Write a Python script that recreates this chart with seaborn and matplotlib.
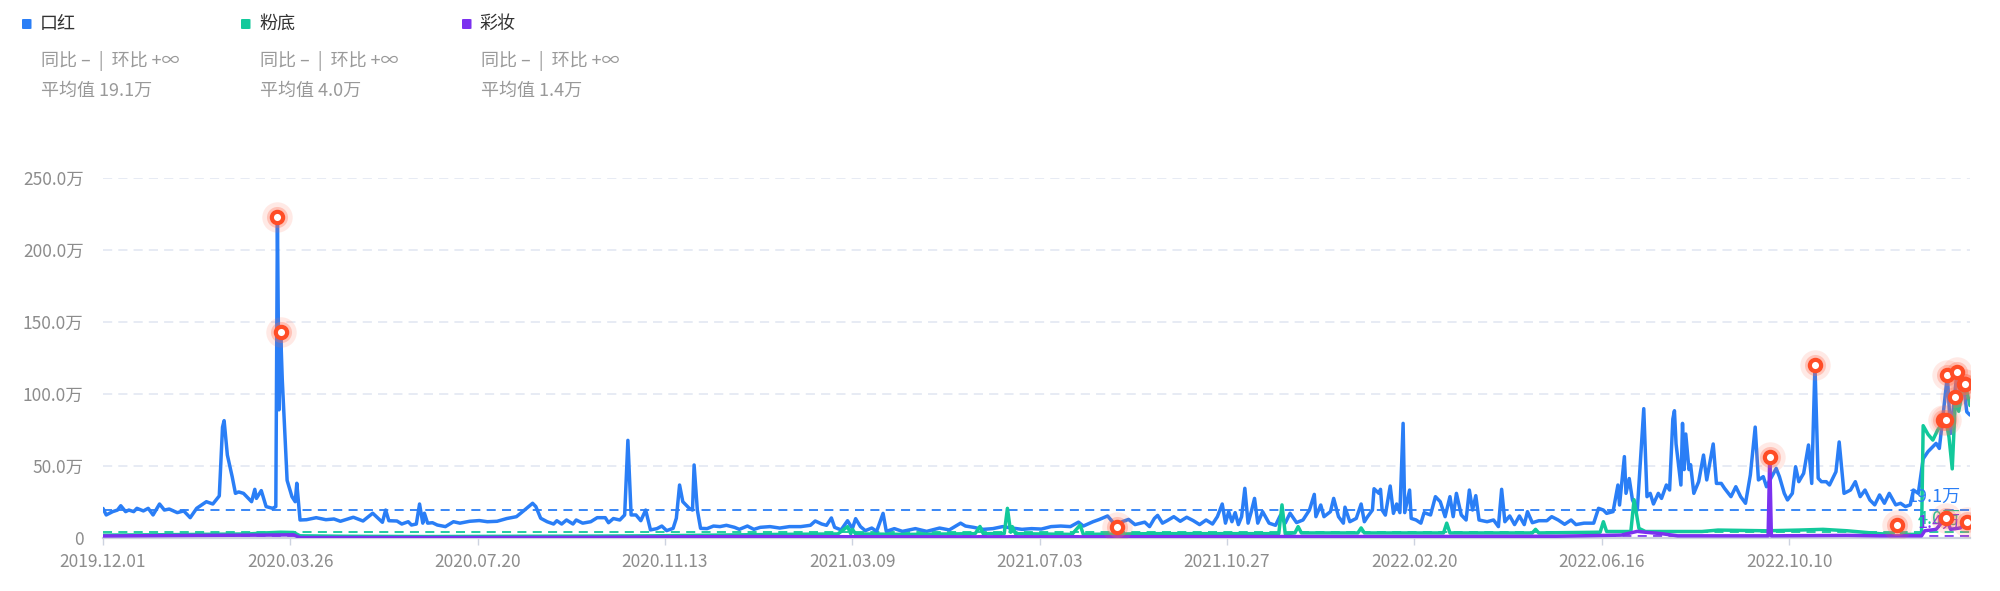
import matplotlib
matplotlib.use("Agg")
import matplotlib.pyplot as plt
from matplotlib.patches import FancyBboxPatch
from matplotlib.ticker import FuncFormatter, FixedLocator
import pandas as pd
import seaborn as sns

# ---- data (values in 万, days counted from 2019-12-01) ----
START = pd.Timestamp("2019-12-01")
END_DAY = 1156
TICK_DAYS = [0, 116, 232, 348, 464, 580, 696, 812, 928, 1044]

series_names = ["口红", "粉底", "彩妆"]
series_colors = ["#2a7ef6", "#12c99b", "#7b31ef"]
series_means = [19.1, 4.0, 1.4]

lipstick_days = [
    0, 2, 6, 9, 11, 14, 16, 19, 21, 25, 28, 31, 35, 38, 41, 46, 50, 54, 58, 64,
    68, 72, 74, 75, 77, 80, 82, 84, 87, 90, 92, 94, 95, 98, 101, 105, 107, 108, 109, 110,
    111, 113, 114, 117, 119, 120, 122, 126, 132, 138, 143, 147, 155, 161, 167, 170, 173, 175, 177, 182,
    185, 189, 191, 194, 196, 198, 199, 201, 204, 207, 212, 217, 221, 227, 233, 238, 244, 250, 256, 261,
    266, 268, 271, 275, 279, 281, 284, 287, 291, 293, 297, 302, 306, 311, 313, 316, 320, 323, 325, 327,
    330, 333, 336, 339, 343, 346, 349, 353, 355, 357, 359, 363, 365, 366, 368, 370, 374, 378, 382, 386,
    391, 394, 399, 403, 407, 413, 419, 425, 432, 438, 441, 445, 448, 451, 453, 457, 461, 464, 466, 469,
    472, 476, 479, 483, 485, 490, 495, 503, 510, 518, 524, 531, 534, 539, 545, 551, 557, 563, 569, 575,
    581, 587, 593, 599, 604, 607, 613, 617, 622, 625, 628, 631, 635, 639, 645, 648, 651, 653, 656, 659,
    663, 667, 671, 675, 679, 683, 687, 690, 693, 695, 697, 699, 701, 703, 705, 707, 709, 711, 713, 715,
    718, 722, 726, 729, 732, 735, 739, 743, 747, 750, 751, 754, 756, 760, 762, 765, 768, 769, 772, 776,
    779, 781, 783, 786, 787, 790, 791, 792, 794, 797, 799, 801, 803, 805, 806, 809, 810, 813, 816, 818,
    822, 825, 828, 831, 834, 836, 838, 841, 844, 846, 848, 850, 852, 857, 861, 864, 866, 868, 871, 874,
    877, 880, 882, 885, 889, 894, 897, 901, 905, 909, 912, 917, 923, 926, 929, 931, 935, 938, 939, 942,
    943, 945, 947, 950, 954, 956, 958, 960, 963, 965, 968, 970, 972, 973, 974, 977, 978, 979, 980, 982,
    983, 985, 988, 991, 993, 997, 999, 1002, 1004, 1008, 1011, 1014, 1017, 1020, 1023, 1025, 1028, 1030, 1032, 1036,
    1038, 1041, 1043, 1046, 1048, 1050, 1053, 1056, 1058, 1060, 1062, 1064, 1067, 1069, 1073, 1075, 1078, 1082, 1085, 1088,
    1091, 1094, 1097, 1100, 1103, 1106, 1110, 1113, 1116, 1119, 1121, 1124, 1127, 1130, 1133, 1135, 1137, 1139, 1142, 1144,
    1146, 1148, 1150, 1152, 1154, 1156,
]
lipstick_vals = [
    20.5, 16, 18.3, 19.4, 22.4, 18.3, 19.4, 18.3, 20.6, 18.8, 20.6, 16, 23.6, 19.4, 20.1, 17.6, 18.8, 14.1, 20.6, 25.2,
    23.6, 29.2, 77, 81.5, 57.6, 42.5, 31, 32, 31, 27.5, 25.2, 33.8, 27.5, 32.9, 21.8, 20.6, 21.8, 223, 89, 143,
    110, 63, 40, 28.7, 25.2, 38, 12.5, 12.7, 14.1, 12.7, 13.2, 11.6, 14.4, 11.8, 17.2, 14.1, 10.9, 19.4, 12, 11.8,
    9.7, 11.3, 9, 9.7, 23.6, 10.3, 17.2, 10.3, 10.6, 9, 7.9, 11.3, 10.3, 11.6, 12.1, 11.3, 11.6, 13.5, 14.8, 19.4,
    24.1, 21.8, 13.7, 11.3, 9.7, 12, 9.7, 12.5, 9.7, 12.5, 10.3, 11.3, 14.1, 14.1, 10.6, 13.5, 12.5, 16, 67.8, 16,
    16, 12, 19.4, 5.6, 6.5, 8.3, 5.1, 6.7, 13.7, 36.8, 25.2, 20.6, 19.4, 50.7, 19.4, 6.7, 6.5, 8.3, 7.9, 8.8,
    7.4, 6, 8.3, 6, 7.4, 7.9, 6.9, 7.9, 7.9, 8.8, 11.8, 9.7, 8.8, 13.9, 7.4, 5.6, 12, 6.5, 13.4, 7.9,
    5.1, 6.9, 4.6, 17.1, 4.6, 6.5, 4.6, 6.5, 4.6, 6.9, 5.6, 10.3, 8.3, 7.4, 6, 6.5, 7.9, 6.9, 6, 6.5,
    6.2, 7.9, 8.3, 7.9, 11, 8.3, 11.3, 12.9, 15.3, 11.3, 7.4, 11.3, 12.9, 9.3, 11, 7.9, 13.6, 15.7, 10.3, 12.1,
    14.8, 11.6, 14.4, 12.1, 9.3, 12.5, 9.7, 14.8, 23.6, 10.3, 18.3, 11.3, 17.6, 9.3, 14.8, 34.5, 10.3, 18.3, 27.5, 10.3,
    18.3, 10.3, 8.8, 15.7, 10.3, 17.2, 10.7, 12.5, 19.4, 30.3, 14.8, 22.9, 14.8, 18.3, 27.5, 14.8, 10.3, 21.4, 11.3, 13.6,
    23.6, 11.3, 14.8, 19.4, 34.2, 31, 33.8, 19.4, 15.9, 36.1, 17.1, 23.6, 17.6, 79.6, 17.6, 33.3, 13.6, 12.5, 10.3, 17.6,
    16, 28.7, 25.2, 14.8, 28.7, 14.8, 31, 16, 12.5, 33.3, 19.4, 29.4, 12.5, 11.3, 12.5, 7.9, 33.8, 11.3, 15.3, 9.3,
    15.3, 9.3, 18.3, 10.6, 12, 12, 14.8, 12.5, 9.5, 12.5, 9.3, 10.3, 10.3, 20.6, 19.4, 17.1, 18.3, 36.8, 22.9, 56.5,
    31, 41.3, 26.4, 19.4, 89.8, 28.7, 31, 23.6, 31, 27.5, 36.8, 33.3, 82.6, 88.4, 65.3, 36.8, 79.6, 47.5, 72.2, 47.5,
    50.9, 31, 39.1, 57.6, 40.3, 65.3, 37.9, 37.9, 34.5, 28.7, 35.6, 28.7, 24.1, 43.8, 77, 40.3, 42.6, 35.6, 40, 48.3,
    42.6, 31, 26.4, 31, 49.5, 39.1, 44.9, 64.6, 37.9, 120, 41.5, 39.1, 39.1, 36.8, 46, 66.7, 31, 33.3, 39.1, 28.7,
    33.3, 26.4, 23, 29.9, 24.1, 31, 23, 24.1, 21.8, 23, 33.3, 31, 55, 60, 63.4, 65.7, 62.2, 81.9, 113, 72.6,
    93.5, 115.5, 98, 107, 87.6, 85.4,
]

foundation_days = [
    0, 30, 60, 90, 100, 110, 118, 122, 150, 200, 260, 300, 340, 380, 420, 455, 461, 463, 464, 466,
    500, 540, 543, 545, 558, 560, 562, 563, 565, 600, 605, 607, 650, 700, 728, 730, 732, 738, 740, 742,
    777, 779, 781, 830, 832, 834, 885, 887, 889, 927, 929, 931, 946, 948, 951, 955, 990, 1000, 1030, 1050,
    1065, 1080, 1100, 1108, 1111, 1114, 1126, 1127, 1130, 1133, 1136, 1139, 1141, 1143, 1145, 1147, 1149, 1151, 1153, 1156,
]
foundation_vals = [
    2.0, 2.2, 2.5, 2.8, 3.5, 4.0, 3.8, 1.5, 1.2, 1.0, 1.2, 1.3, 1.5, 2.0, 2.5, 2.8, 7.9, 3, 6, 2.8,
    2.5, 3, 8, 3, 3, 20.6, 4, 7.9, 3, 2.5, 9, 2.5, 3, 3, 3, 23, 3, 3.5, 7.9, 3.5,
    3.5, 7, 3.5, 3.5, 10.3, 3.5, 3.5, 6, 3.5, 4, 11.3, 4.5, 4.5, 26.6, 6.7, 4.5, 4.5, 5.5, 5, 5.5,
    6, 5, 3, 2.5, 9, 2.5, 2.5, 78, 72, 68, 75, 80, 82, 70, 48, 98, 88, 100, 107, 92,
]

makeup_days = [
    0, 60, 100, 118, 122, 200, 300, 360, 400, 500, 600, 700, 800, 900, 940, 950, 955, 965, 975, 1000,
    1031, 1032, 1033, 1080, 1100, 1126, 1128, 1135, 1141, 1144, 1150, 1154, 1156,
]
makeup_vals = [
    1.4, 1.8, 2.0, 2.2, 0.3, 0.3, 0.4, 0.8, 1.0, 0.8, 0.8, 1.0, 1.0, 1.2, 2.0, 4.6, 4.0, 3.0, 1.5, 1.5,
    1.5, 56.5, 1.5, 1.8, 1.5, 1.5, 5, 6, 14, 6, 7, 11.3, 12,
]

# highlighted points (day offsets) per series
lipstick_marks = [108, 110, 628, 1060, 1139, 1142, 1148, 1152]
foundation_marks = [1111, 1141, 1147, 1153]
makeup_marks = [1032, 1141, 1154]

# ---- build tables ----
frames = []
for name, days, vals in zip(series_names,
                            [lipstick_days, foundation_days, makeup_days],
                            [lipstick_vals, foundation_vals, makeup_vals]):
    frames.append(pd.DataFrame({"date": START + pd.to_timedelta(days, unit="D"),
                                "value": vals, "series": name}))
df = pd.concat(frames, ignore_index=True)

marks = []
for name, days in zip(series_names, [lipstick_marks, foundation_marks, makeup_marks]):
    sub = df[df["series"] == name].set_index("date")["value"]
    for d in days:
        t = START + pd.Timedelta(days=d)
        marks.append((t, sub.loc[t]))
marks = pd.DataFrame(marks, columns=["date", "value"])

# ---- plot ----
sns.set_theme(style="white")
plt.rcParams["font.family"] = ["Noto Sans CJK SC", "DejaVu Sans"]

fig = plt.figure(figsize=(20, 5.91), dpi=100)
ax = fig.add_axes([0.0515, 0.0897, 0.9335, 0.6091])

grid_c = "#e0e6f1"
for yv in [50, 100, 150, 200, 250]:
    ax.axhline(yv, color=grid_c, lw=1.1, dashes=(6, 4), zorder=0)

sns.lineplot(data=df, x="date", y="value", hue="series", hue_order=series_names,
             palette=series_colors, linewidth=2.5, legend=False, ax=ax,
             estimator=None, sort=False, zorder=3)

for mean, color in zip(series_means, series_colors):
    ax.axhline(mean, color=color, lw=1.3, dashes=(5, 3.5), zorder=2)
    ax.annotate(f"{mean:.1f}万", xy=(1, mean), xycoords=ax.get_yaxis_transform(),
                xytext=(-7, 3), textcoords="offset points", ha="right", va="bottom",
                color=color, fontsize=13, zorder=4)

# highlighted markers: soft halo + ring with white centre
ax.scatter(marks["date"], marks["value"], s=480, color="#ff6a4d", alpha=0.14,
           linewidths=0, zorder=5)
ax.scatter(marks["date"], marks["value"], s=230, color="#ff6a4d", alpha=0.3,
           linewidths=0, zorder=5)
ax.scatter(marks["date"], marks["value"], s=66, facecolor="white",
           edgecolor="#ff4d26", linewidths=3, zorder=6)

ax.set_xlim(START, START + pd.Timedelta(days=END_DAY))
ax.set_ylim(0, 250)
ax.yaxis.set_major_locator(FixedLocator([0, 50, 100, 150, 200, 250]))
ax.yaxis.set_major_formatter(FuncFormatter(lambda v, p: "0" if v == 0 else f"{v:.1f}万"))
tick_dates = [START + pd.Timedelta(days=d) for d in TICK_DAYS]
ax.set_xticks(tick_dates)
ax.set_xticklabels([t.strftime("%Y.%m.%d") for t in tick_dates])

for s in ["top", "right", "left"]:
    ax.spines[s].set_visible(False)
ax.spines["bottom"].set_color("#cdd3e0")
ax.spines["bottom"].set_linewidth(1.6)
ax.tick_params(axis="x", length=5, width=1, color="#cdd3e0", pad=6,
               labelsize=12.5, labelcolor="#8c8c8c", bottom=True)
ax.tick_params(axis="y", length=0, pad=14, labelsize=12.5, labelcolor="#8c8c8c")
ax.set_xlabel("")
ax.set_ylabel("")
ax.grid(False)

# ---- header legend ----
W, H = 2000, 591
group_x = [22, 241, 462]
avg_texts = ["平均值 19.1万", "平均值 4.0万", "平均值 1.4万"]
for gx, name, color, avg in zip(group_x, series_names, series_colors, avg_texts):
    fig.patches.append(FancyBboxPatch((gx / W, 1 - 29 / H), 9.5 / W, 10 / H,
                                      boxstyle="round,pad=0,rounding_size=0.001",
                                      transform=fig.transFigure, color=color,
                                      linewidth=0))
    fig.text((gx + 18) / W, 1 - 24 / H, name, fontsize=13, color="#333333",
             va="center", ha="left")
    fig.text((gx + 19) / W, 1 - 61 / H, "同比 –  |  环比 +∞", fontsize=13,
             color="#999999", va="center", ha="left")
    fig.text((gx + 19) / W, 1 - 91 / H, avg, fontsize=13, color="#999999",
             va="center", ha="left")

fig.savefig("out.png", dpi=100)
